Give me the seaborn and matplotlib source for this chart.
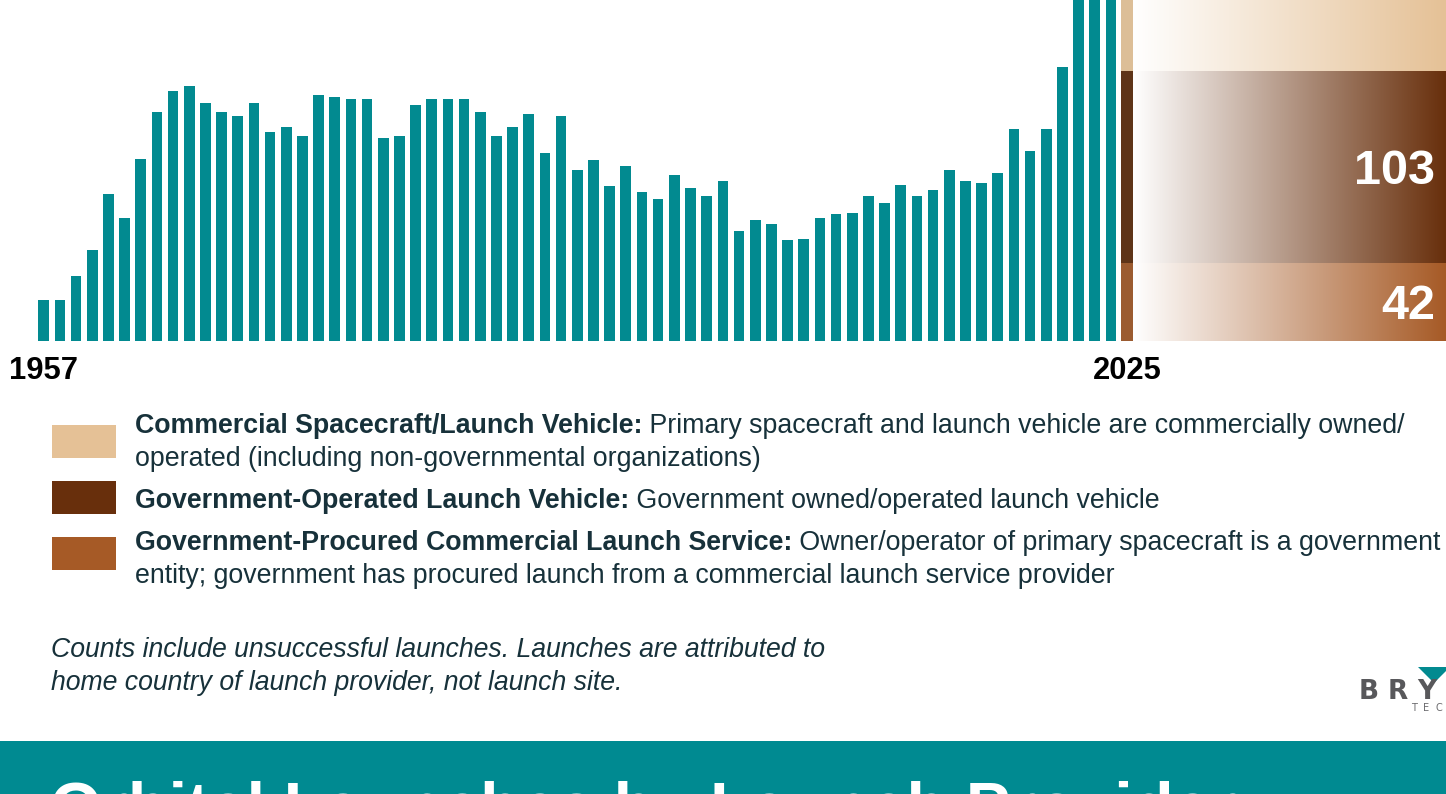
import numpy as np
import pandas as pd
import matplotlib
matplotlib.use("Agg")
import matplotlib.pyplot as plt
import matplotlib.colors as mcolors
import matplotlib.transforms as mtransforms
from matplotlib import font_manager as fm
from matplotlib.patches import Rectangle, Polygon
import seaborn as sns

# ---------------- data ----------------
years = list(range(1958, 2025))
launches = [22, 22, 35, 49, 79, 66, 98, 123, 134, 137,
            128, 123, 121, 128, 112, 115, 110, 132, 131, 130,
            130, 109, 110, 127, 130, 130, 130, 123, 110, 115,
            122, 101, 121, 92, 97, 83, 94, 80, 76, 89,
            82, 78, 86, 59, 65, 63, 54, 55, 66, 68,
            69, 78, 74, 84, 78, 81, 92, 86, 85, 90,
            114, 102, 114, 147, 186, 223, 259]
last_year = "2025"
axis_labels = ["1957", "2025"]

providers = ["Government-Procured Commercial Launch Service",
             "Government-Operated Launch Vehicle",
             "Commercial Spacecraft/Launch Vehicle"]          # bottom -> top
values_2025 = [42, 103, 180]
shown_labels = [True, True, False]

legend_bold = ["Commercial Spacecraft/Launch Vehicle:",
               "Government-Operated Launch Vehicle:",
               "Government-Procured Commercial Launch Service:"]
legend_text = [["Primary spacecraft and launch vehicle are commercially owned/",
                "operated (including non-governmental organizations)"],
               ["Government owned/operated launch vehicle"],
               ["Owner/operator of primary spacecraft is a government",
                "entity; government has procured launch from a commercial launch service provider"]]
footnote = ["Counts include unsuccessful launches. Launches are attributed to",
            "home country of launch provider, not launch site."]
title = "Orbital Launches by Launch Provider"
logo = "BRYCE"
logo_sub = "TECHNOLOGY"

# ---------------- style ----------------
TEAL = "#028A90"
BANNER = "#008A91"
TXT = "#17313A"
bar_cols = ["#9B5B30", "#5E3418", "#DCBE97"]       # stacked bar (bottom->top)
key_cols = ["#A65A26", "#682F0C", "#E5C196"]       # gradient ends (bottom->top)
legend_cols = ["#E5C196", "#682F0C", "#A65A26"]    # legend order (top->bottom)

sns.set_theme(style="white")
names = {f.name for f in fm.fontManager.ttflist}
FONT = "Liberation Sans Narrow" if "Liberation Sans Narrow" in names else "Liberation Sans"
plt.rcParams["font.family"] = [FONT, "DejaVu Sans"]

W, H = 1446, 794
fig = plt.figure(figsize=(W / 100, H / 100), dpi=100)
fig.patch.set_facecolor("white")

BASE = 341.0
PITCH = 16.17
X0 = 43.7
PXU = 1.862
ax = fig.add_axes([0, 1 - BASE / H, 1, BASE / H])

df = pd.DataFrame({"year": [str(y) for y in years] + [last_year],
                   "launches": launches + [np.nan]})
sns.barplot(data=df, x="year", y="launches", order=list(df["year"]),
            color=TEAL, saturation=1, width=0.66, errorbar=None,
            linewidth=0, ax=ax)

xl = (-X0 / PITCH, (W - X0) / PITCH)
yl = (0, BASE / PXU)
pos = len(years)
bw = 0.78
bottom = 0
grad = np.linspace(0, 1, 400)
for val, bc, kc, show in zip(values_2025, bar_cols, key_cols, shown_labels):
    ax.bar(pos, val, bottom=bottom, width=bw, color=bc, linewidth=0, zorder=3)
    rgb = np.array(mcolors.to_rgb(kc))
    img = (1 - grad)[:, None] * np.ones(3) + grad[:, None] * rgb
    ax.imshow(img[None, :, :], extent=[pos + bw / 2, xl[1], bottom, bottom + val],
              aspect="auto", zorder=1, interpolation="bilinear")
    if show:
        ax.text(xl[1] - 11 / PITCH, bottom + val / 2, str(val), ha="right",
                va="center_baseline", color="white", fontweight="bold",
                fontsize=35, zorder=5, family=["Liberation Sans", "DejaVu Sans"])
    bottom += val

ax.set_xlim(*xl)
ax.set_ylim(*yl)
ax.axis("off")

fig.canvas.draw()
R = fig.canvas.get_renderer()


def fx(px):
    return px / W


def fy(py):
    return 1 - py / H


def width(t):
    return t.get_window_extent(R).width


def fit(t, target):
    t.set_fontsize(t.get_fontsize() * target / width(t))


# year labels
trans = mtransforms.blended_transform_factory(ax.transData, fig.transFigure)
for i, lab in zip([0, pos], axis_labels):
    t = ax.text(i, fy(379), lab, transform=trans, ha="center", va="baseline",
                fontweight="bold", color="black", fontsize=24, clip_on=False)
    fit(t, 69)

# legend
sq_y = [425, 481, 537]
base_y = [[433, 466], [508], [550, 583]]
probe = fig.text(0, 0, legend_bold[0], fontsize=20, fontweight="bold")
probe2 = fig.text(0, 0, " " + legend_text[0][0], fontsize=20)
size = 20 * 1267 / (width(probe) + width(probe2))
probe.remove()
probe2.remove()
for k in range(3):
    fig.patches.append(Rectangle((fx(52), fy(sq_y[k] + 33)), 64 / W, 33 / H,
                                 transform=fig.transFigure, color=legend_cols[k],
                                 linewidth=0))
    tb = fig.text(fx(135), fy(base_y[k][0]), legend_bold[k], fontsize=size,
                  fontweight="bold", color=TXT, va="baseline")
    wb = width(tb)
    fig.text(fx(135) + wb / W, fy(base_y[k][0]), " " + legend_text[k][0],
             fontsize=size, color=TXT, va="baseline")
    if len(legend_text[k]) > 1:
        fig.text(fx(135), fy(base_y[k][1]), legend_text[k][1], fontsize=size,
                 color=TXT, va="baseline")

# footnote
t1 = fig.text(fx(51), fy(657), footnote[0], style="italic", color=TXT,
              fontsize=18, va="baseline")
fit(t1, 776)
fig.text(fx(51), fy(690), footnote[1], style="italic", color=TXT,
         fontsize=t1.get_fontsize(), va="baseline")

# logo
for i, ch in enumerate(logo):
    x = 1359 + 29 * i
    if x < W:
        fig.text(fx(x), fy(699), ch, color="#58585B", fontsize=19,
                 fontweight="bold", va="baseline", family="DejaVu Sans")
for i, ch in enumerate(logo_sub):
    x = 1411 + 12 * i
    if x < W - 4:
        fig.text(fx(x), fy(711), ch, color="#6A6A6D", fontsize=7,
                 va="baseline", family="DejaVu Sans")
fig.patches.append(Polygon([(fx(1418), fy(667)), (fx(1450), fy(667)),
                            (fx(1434), fy(683))], closed=True,
                           transform=fig.transFigure, color=TEAL, linewidth=0))

# banner
fig.patches.append(Rectangle((0, 0), 1, 53 / H, transform=fig.transFigure,
                             color=BANNER, linewidth=0, zorder=0))
tt = fig.text(fx(50), fy(829), title, color="white", fontweight="bold",
              fontsize=42, va="baseline", family=["Liberation Sans", "DejaVu Sans"])
fit(tt, 1188)

fig.savefig("out.png", dpi=100)
